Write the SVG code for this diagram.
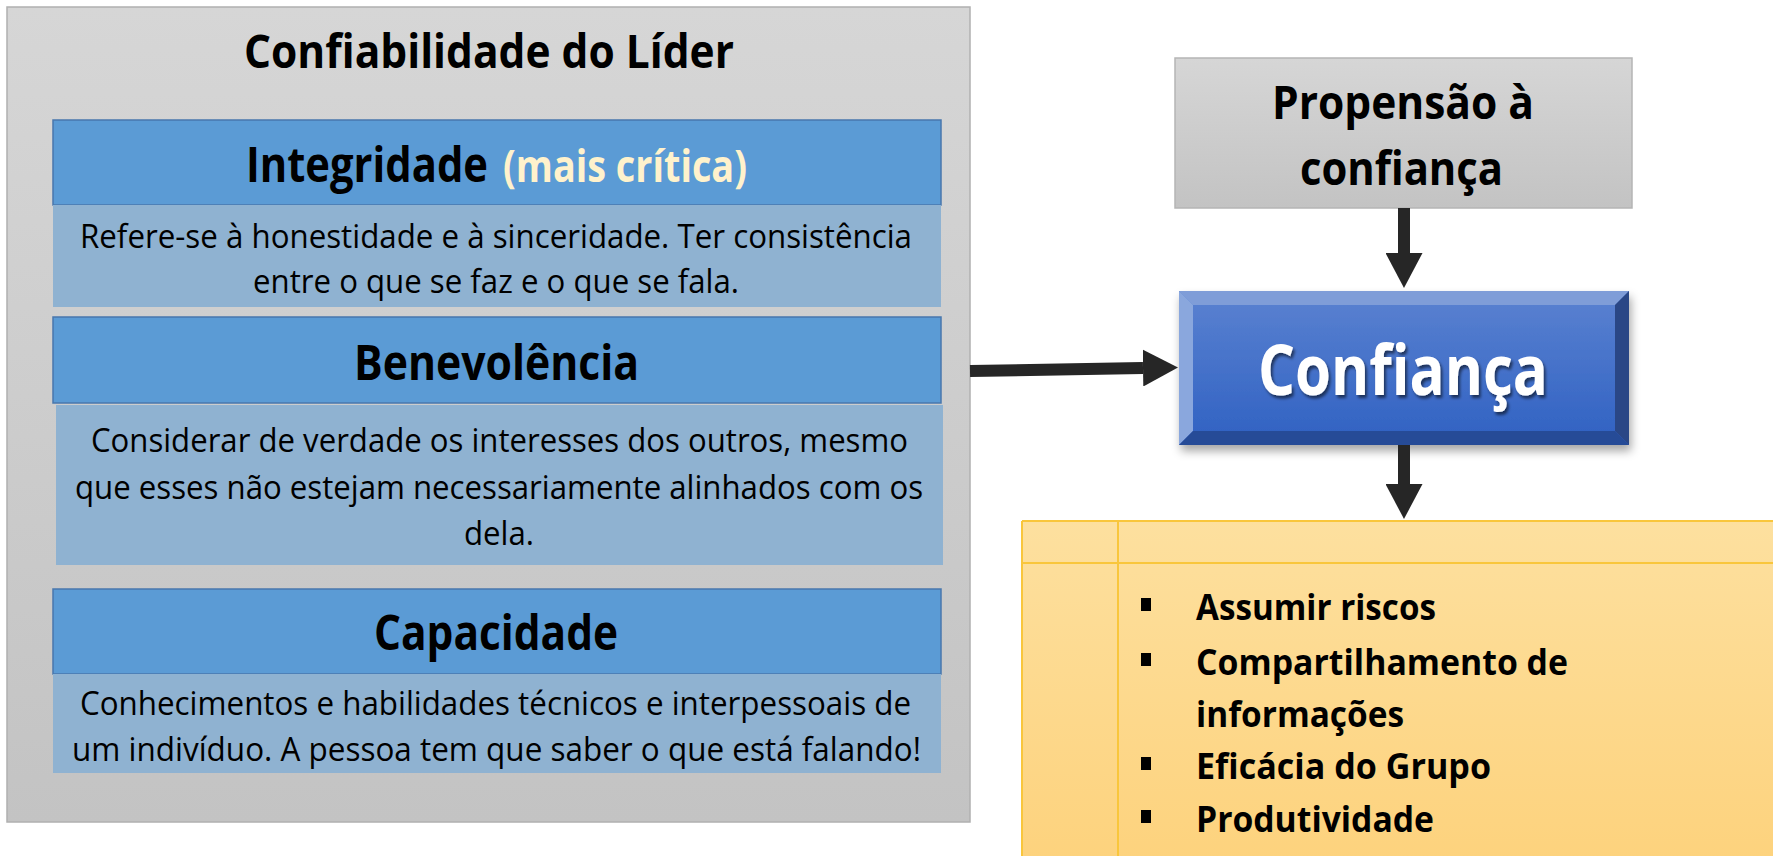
<svg xmlns="http://www.w3.org/2000/svg" width="1773" height="856" viewBox="0 0 1773 856">
<defs>
<style>
text{font-family:"Open Sans","Liberation Sans",sans-serif;fill:#000}
.b{font-weight:bold}
.title{font-size:46px}
.hdr{font-size:48px}
.body{font-size:32px}
.li{font-size:35px}
.hbar{fill:#5b9bd5;stroke:#4877ad;stroke-width:1.5}
.desc{fill:#8fb2d1}
.conn{stroke:#262626;stroke-width:12;fill:none;marker-end:url(#ah)}
.ybl{stroke:#f9c63c;stroke-width:2;fill:none}
</style>
<linearGradient id="gGray" x1="0" y1="0" x2="0" y2="1">
<stop offset="0" stop-color="#d6d6d6"/><stop offset="1" stop-color="#c3c3c3"/>
</linearGradient>
<linearGradient id="gYel" x1="0" y1="0" x2="0" y2="1">
<stop offset="0" stop-color="#fde09f"/><stop offset="1" stop-color="#fdd27c"/>
</linearGradient>
<linearGradient id="gBlue" x1="0" y1="0" x2="0" y2="1">
<stop offset="0" stop-color="#5b82d1"/><stop offset="1" stop-color="#2f61c2"/>
</linearGradient>
<filter id="sh" x="-10%" y="-10%" width="125%" height="135%">
<feDropShadow dx="2" dy="6" stdDeviation="5" flood-color="#000" flood-opacity="0.35"/>
</filter>
<filter id="tsh" x="-10%" y="-20%" width="120%" height="150%">
<feDropShadow dx="2" dy="3" stdDeviation="1.5" flood-color="#000" flood-opacity="0.55"/>
</filter>
<marker id="ah" viewBox="0 0 35 37" markerWidth="35" markerHeight="37" refX="0" refY="18.5" orient="auto" markerUnits="userSpaceOnUse">
<path d="M0,0 L35,18.5 L0,37 Z" fill="#262626"/>
</marker>
</defs>

<rect width="1773" height="856" fill="#ffffff"/>

<g id="confiabilidade">
<rect x="7" y="7" width="963" height="815" fill="url(#gGray)" stroke="#b0b0b0" stroke-width="1.5"/>
<text class="b title" x="244" y="68" textLength="490" lengthAdjust="spacingAndGlyphs">Confiabilidade do Líder</text>
</g>

<g id="integridade">
<rect class="hbar" x="53" y="120" width="888" height="85"/>
<rect class="desc" x="53" y="205" width="888" height="102"/>
<text class="b hdr" x="246" y="182" textLength="242" lengthAdjust="spacingAndGlyphs">Integridade</text>
<text class="b hdr" x="503" y="182" textLength="244" lengthAdjust="spacingAndGlyphs" style="fill:#fff2cc;font-size:45px">(mais crítica)</text>
<text class="body" x="80" y="248" textLength="832" lengthAdjust="spacingAndGlyphs">Refere-se à honestidade e à sinceridade. Ter consistência</text>
<text class="body" x="253" y="293" textLength="486" lengthAdjust="spacingAndGlyphs">entre o que se faz e o que se fala.</text>
</g>

<g id="benevolencia">
<rect class="hbar" x="53" y="317" width="888" height="86"/>
<rect class="desc" x="56" y="405" width="887" height="160"/>
<text class="b hdr" x="354" y="380" textLength="285" lengthAdjust="spacingAndGlyphs">Benevolência</text>
<text class="body" x="91" y="452" textLength="817" lengthAdjust="spacingAndGlyphs">Considerar de verdade os interesses dos outros, mesmo</text>
<text class="body" x="75" y="499" textLength="848" lengthAdjust="spacingAndGlyphs">que esses não estejam necessariamente alinhados com os</text>
<text class="body" x="464" y="545" textLength="70" lengthAdjust="spacingAndGlyphs">dela.</text>
</g>

<g id="capacidade">
<rect class="hbar" x="53" y="589" width="888" height="85"/>
<rect class="desc" x="53" y="674" width="888" height="99"/>
<text class="b hdr" x="374" y="650" textLength="244" lengthAdjust="spacingAndGlyphs">Capacidade</text>
<text class="body" x="80" y="715" textLength="831" lengthAdjust="spacingAndGlyphs">Conhecimentos e habilidades técnicos e interpessoais de</text>
<text class="body" x="72" y="761" textLength="849" lengthAdjust="spacingAndGlyphs">um indivíduo. A pessoa tem que saber o que está falando!</text>
</g>

<g id="propensao">
<rect x="1175" y="58" width="457" height="150" fill="url(#gGray)" stroke="#b5b5b5" stroke-width="1.5"/>
<text class="b" x="1272" y="119" textLength="262" lengthAdjust="spacingAndGlyphs" style="font-size:47px">Propensão à</text>
<text class="b" x="1300" y="185" textLength="203" lengthAdjust="spacingAndGlyphs" style="font-size:47px">confiança</text>
</g>

<g id="confianca">
<g filter="url(#sh)">
<rect x="1179" y="291" width="450" height="154" fill="url(#gBlue)"/>
</g>
<path d="M1179,291 L1629,291 L1615,305 L1193,305 Z" fill="#7f9dd8"/>
<path d="M1179,291 L1193,305 L1193,431 L1179,445 Z" fill="#8aa7dd"/>
<path d="M1629,291 L1629,445 L1615,431 L1615,305 Z" fill="#2a4786"/>
<path d="M1179,445 L1193,431 L1615,431 L1629,445 Z" fill="#264b97"/>
<text class="b" x="1258" y="395" textLength="290" lengthAdjust="spacingAndGlyphs" filter="url(#tsh)" style="font-size:70px;fill:#ffffff">Confiança</text>
</g>

<g id="resultados">
<rect x="1022" y="521" width="770" height="350" fill="url(#gYel)"/>
<line class="ybl" x1="1022" y1="521" x2="1773" y2="521"/>
<line class="ybl" x1="1022" y1="521" x2="1022" y2="856"/>
<line class="ybl" x1="1118" y1="521" x2="1118" y2="856"/>
<line class="ybl" x1="1022" y1="563" x2="1773" y2="563"/>
<rect x="1141" y="598" width="10" height="13" fill="#000"/>
<rect x="1141" y="653" width="10" height="13" fill="#000"/>
<rect x="1141" y="757" width="10" height="13" fill="#000"/>
<rect x="1141" y="810" width="10" height="13" fill="#000"/>
<text class="b li" x="1196" y="620" textLength="240" lengthAdjust="spacingAndGlyphs">Assumir riscos</text>
<text class="b li" x="1196" y="675" textLength="372" lengthAdjust="spacingAndGlyphs">Compartilhamento de</text>
<text class="b li" x="1196" y="727" textLength="208" lengthAdjust="spacingAndGlyphs">informações</text>
<text class="b li" x="1196" y="779" textLength="295" lengthAdjust="spacingAndGlyphs">Eficácia do Grupo</text>
<text class="b li" x="1196" y="832" textLength="238" lengthAdjust="spacingAndGlyphs">Produtividade</text>
</g>

<g id="connectors">
<path class="conn" d="M970,371 L1143,368"/>
<path class="conn" d="M1404,208 L1404,253"/>
<path class="conn" d="M1404,445 L1404,484"/>
</g>
</svg>
